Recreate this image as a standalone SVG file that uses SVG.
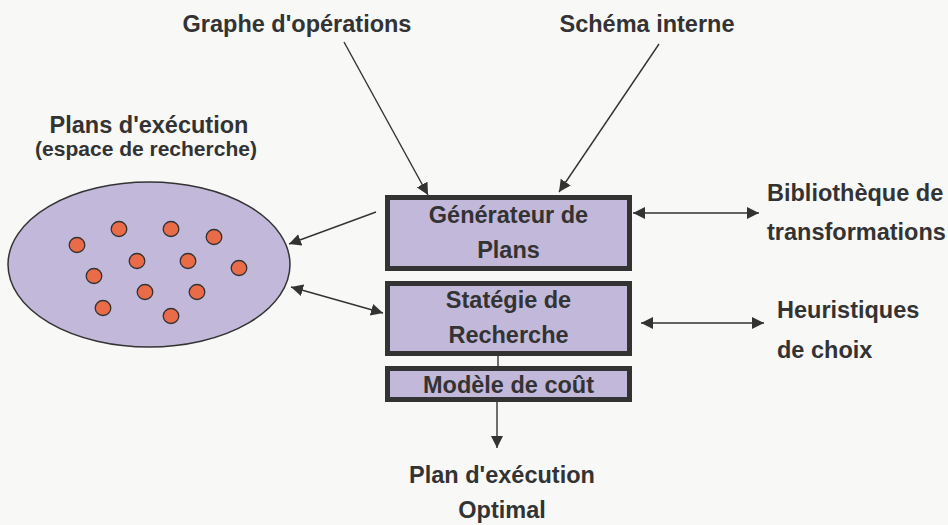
<svg xmlns="http://www.w3.org/2000/svg" width="948" height="525" viewBox="0 0 948 525">
  <style>
    .bg { fill: #f8f8f7; }
    .lbl { font-family: "Liberation Sans", Arial, sans-serif; font-weight: bold; font-size: 23.5px; fill: #333333; }
    .sub { font-size: 21px; }
    .mid { text-anchor: middle; }
    .box { fill: #c2b8d9; stroke: #333333; stroke-width: 5; }
    .space { fill: #c2b8d9; stroke: #333333; stroke-width: 1.5; }
    .plan { fill: #ea6b48; stroke: #333333; stroke-width: 1.3; }
    .wire { fill: none; stroke: #333333; stroke-width: 1.4; }
  </style>
  <defs>
    <marker id="head" markerUnits="userSpaceOnUse" markerWidth="14" markerHeight="12" refX="12" refY="6" orient="auto-start-reverse">
      <path d="M0,0 L12,6 L0,12 Z" fill="#333333"/>
    </marker>
  </defs>

  <rect class="bg" x="0" y="0" width="948" height="525"/>

  <!-- search space of execution plans -->
  <g id="plans-space">
    <text class="lbl mid" x="149" y="133">Plans d'exécution</text>
    <text class="lbl sub mid" x="146" y="156">(espace de recherche)</text>
    <ellipse class="space" cx="149" cy="264.5" rx="141" ry="82.5"/>
    <g>
      <ellipse class="plan" cx="77" cy="245" rx="7.8" ry="7.5"/>
      <ellipse class="plan" cx="119" cy="229" rx="7.8" ry="7.5"/>
      <ellipse class="plan" cx="171" cy="229" rx="7.8" ry="7.5"/>
      <ellipse class="plan" cx="214" cy="237" rx="7.8" ry="7.5"/>
      <ellipse class="plan" cx="137" cy="261" rx="7.8" ry="7.5"/>
      <ellipse class="plan" cx="188" cy="261" rx="7.8" ry="7.5"/>
      <ellipse class="plan" cx="239" cy="268" rx="7.8" ry="7.5"/>
      <ellipse class="plan" cx="94" cy="276" rx="7.8" ry="7.5"/>
      <ellipse class="plan" cx="145" cy="292" rx="7.8" ry="7.5"/>
      <ellipse class="plan" cx="197" cy="292" rx="7.8" ry="7.5"/>
      <ellipse class="plan" cx="103" cy="308" rx="7.8" ry="7.5"/>
      <ellipse class="plan" cx="171" cy="316" rx="7.8" ry="7.5"/>
    </g>
  </g>

  <!-- inputs -->
  <g id="graphe">
    <text class="lbl mid" x="297" y="32">Graphe d'opérations</text>
  </g>
  <g id="schema">
    <text class="lbl mid" x="647" y="32">Schéma interne</text>
  </g>

  <!-- optimizer modules -->
  <g id="generateur">
    <rect class="box" x="387.5" y="197.5" width="242" height="71"/>
    <text class="lbl mid" x="508.5" y="223">Générateur de</text>
    <text class="lbl mid" x="508.5" y="258">Plans</text>
  </g>
  <g id="strategie">
    <rect class="box" x="387.5" y="283.5" width="242" height="70"/>
    <text class="lbl mid" x="508.5" y="308">Statégie de</text>
    <text class="lbl mid" x="508.5" y="343">Recherche</text>
  </g>
  <g id="cout">
    <rect class="box" x="387.5" y="368.5" width="242" height="31"/>
    <text class="lbl mid" x="508.5" y="393">Modèle de coût</text>
  </g>

  <!-- side resources -->
  <g id="bibliotheque">
    <text class="lbl" x="767" y="201">Bibliothèque de</text>
    <text class="lbl" x="767" y="240">transformations</text>
  </g>
  <g id="heuristiques">
    <text class="lbl" x="777" y="318">Heuristiques</text>
    <text class="lbl" x="777" y="358">de choix</text>
  </g>

  <!-- result -->
  <g id="plan-optimal">
    <text class="lbl mid" x="502" y="483">Plan d'exécution</text>
    <text class="lbl mid" x="502" y="518">Optimal</text>
  </g>

  <!-- connectors -->
  <g id="connectors">
    <line class="wire" x1="344" y1="42" x2="428" y2="195" marker-end="url(#head)"/>
    <line class="wire" x1="659" y1="44" x2="559" y2="192" marker-end="url(#head)"/>
    <line class="wire" x1="376" y1="212" x2="289" y2="244" marker-end="url(#head)"/>
    <line class="wire" x1="291" y1="287" x2="383" y2="313" marker-start="url(#head)" marker-end="url(#head)"/>
    <line class="wire" x1="633" y1="213" x2="759" y2="213" marker-start="url(#head)" marker-end="url(#head)"/>
    <line class="wire" x1="641" y1="323" x2="764" y2="323" marker-start="url(#head)" marker-end="url(#head)"/>
    <line class="wire" x1="498" y1="356" x2="498" y2="366"/>
    <line class="wire" x1="497" y1="402" x2="497" y2="448" marker-end="url(#head)"/>
  </g>
</svg>
